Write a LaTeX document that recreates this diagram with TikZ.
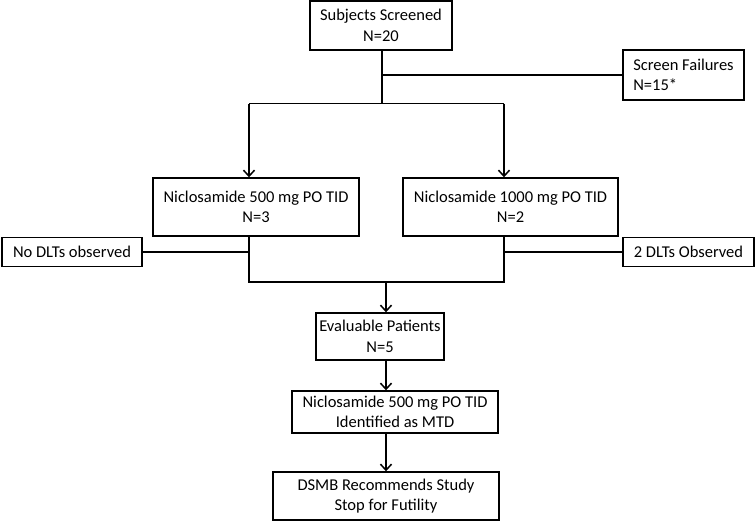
\documentclass[tikz,border=0pt]{standalone}
\usepackage{fontspec}
\setmainfont{Carlito}
\usetikzlibrary{arrows.meta}
\begin{document}
\begin{tikzpicture}[x=1pt,y=-1pt,
  box/.style={draw, line width=1.4pt, align=center, inner sep=0pt, font=\fontsize{16.5}{20.5}\selectfont},
  conn/.style={line width=1.4pt},
  arr/.style={line width=1.4pt, -{Straight Barb[length=6pt,width=11pt,line width=1.5pt]}}]
\useasboundingbox (0,0) rectangle (756,522);
\node[box, minimum width=142pt, minimum height=49pt] (ss) at (381,25.5) {Subjects Screened\\N=20};
\node[box, minimum width=121pt, minimum height=50pt, align=left] (sf) at (683.5,75) {Screen Failures\\N=15*};
\node[box, minimum width=206pt, minimum height=58pt] (n500) at (256,207) {Niclosamide 500 mg PO TID\\N=3};
\node[box, minimum width=215pt, minimum height=58pt] (n1000) at (510.5,207) {Niclosamide 1000 mg PO TID\\N=2};
\node[box, minimum width=140pt, minimum height=29pt] (nodlt) at (72,252) {No DLTs observed};
\node[box, minimum width=131pt, minimum height=29pt] (dlt) at (688.5,252) {2 DLTs Observed};
\node[box, minimum width=128pt, minimum height=47pt] (ev) at (380,336.5) {Evaluable Patients\\N=5};
\node[box, minimum width=206pt, minimum height=42pt] (mtd) at (395,412) {Niclosamide 500 mg PO TID\\Identified as MTD};
\node[box, minimum width=226pt, minimum height=48pt] (dsmb) at (386,496) {DSMB Recommends Study\\Stop for Futility};
\coordinate (jtop) at (382,103.5);
\coordinate (jsf) at (382,75);
\coordinate (jl) at (249,103.5);
\coordinate (jr) at (504,103.5);
\coordinate (bl) at (249,282);
\coordinate (br) at (504,282);
\coordinate (bc) at (386,282);
\coordinate (jnd) at (249,252);
\coordinate (jd) at (504,252);
% top section
\draw[conn] (ss.south -| jtop) -- (jtop);
\draw[conn] (jsf) -- (sf.west);
\draw[conn] (jl) -- (jr);
\draw[arr] (jl) -- (jl |- n500.north);
\draw[arr] (jr) -- (jr |- n1000.north);
% middle section
\draw[conn] (bl |- n500.south) -- (bl) -- (br) -- (br |- n1000.south);
\draw[conn] (jnd) -- (nodlt.east);
\draw[conn] (jd) -- (dlt.west);
\draw[arr] (bc) -- (bc |- ev.north);
\draw[arr] (bc |- ev.south) -- (bc |- mtd.north);
\draw[arr] (bc |- mtd.south) -- (bc |- dsmb.north);
\end{tikzpicture}
\end{document}
